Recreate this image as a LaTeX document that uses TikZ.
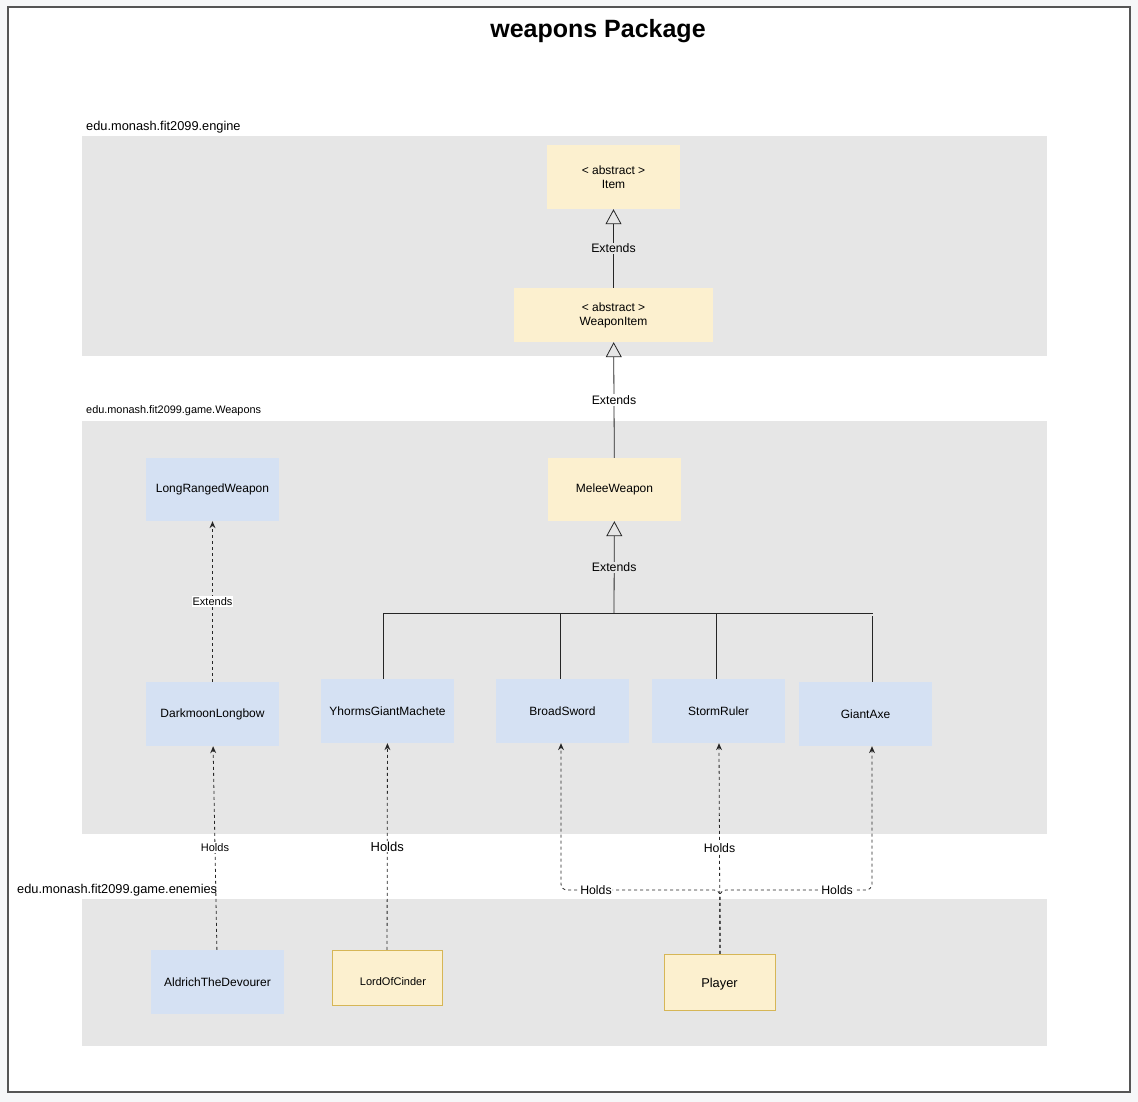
\documentclass[tikz,border=0pt]{standalone}
\usepackage{fontspec}
\setmainfont{Liberation Sans}
\usetikzlibrary{arrows.meta,calc}
\definecolor{pagebg}{HTML}{F6F7F8}
\definecolor{framegray}{HTML}{555555}
\definecolor{pkggray}{HTML}{E6E6E6}
\definecolor{ylwfill}{HTML}{FCF0CF}
\definecolor{ylwline}{HTML}{D6B656}
\definecolor{blufill}{HTML}{D5E1F3}

\begin{document}
\begin{tikzpicture}[x=1pt,y=-1pt,
    cls/.style={inner sep=0pt,align=center,font=\fontsize{12}{14}\selectfont},
    yelbox/.style={cls,fill=ylwfill},
    blubox/.style={cls,fill=blufill},
    pkg/.style={fill=pkggray},
    pkglbl/.style={anchor=west,inner sep=2pt,font=\fontsize{12.8}{15}\selectfont},
    conn/.style={line width=0.8pt,draw=black!85},
    ext/.style={conn,-{Triangle[open,length=15pt,width=16pt,line width=0.8pt]}},
    holds/.style={conn,dash pattern=on 3pt off 3pt,-{Stealth[length=7pt,width=6pt,line width=0pt]}},
    lbl/.style={inner sep=1pt,font=\fontsize{12.3}{14}\selectfont},
    smalllbl/.style={inner sep=1pt,font=\fontsize{11}{13}\selectfont}]
  \useasboundingbox (0,0) rectangle (1138,1102);
  \fill[pagebg] (0,0) rectangle (1138,1102);
  \draw[framegray,line width=1.4pt,fill=white] (8,7) rectangle (1130,1092);
  \node[font=\bfseries\fontsize{25}{30}\selectfont] (title) at (598,31) {weapons Package};

  % packages
  \fill[pkg] (82,136) rectangle (1047,356);
  \node[pkglbl] (enginelbl) at (84,127) {edu.monash.fit2099.engine};
  \fill[pkg] (82,421) rectangle (1047,834);
  \node[pkglbl,font=\fontsize{10.9}{13}\selectfont] (weaponslbl) at (84,411) {edu.monash.fit2099.game.Weapons};
  \fill[pkg] (82,899) rectangle (1047,1046);
  \node[pkglbl] (enemieslbl) at (15,890) {edu.monash.fit2099.game.enemies};

  % classes
  \node[yelbox,minimum width=133pt,minimum height=64pt] (item) at (613.5,177) {< abstract >\\Item};
  \node[yelbox,minimum width=199pt,minimum height=54pt] (weaponitem) at (613.5,315) {< abstract >\\WeaponItem};
  \node[blubox,minimum width=133pt,minimum height=63pt] (longranged) at (212.5,489.5) {LongRangedWeapon};
  \node[yelbox,minimum width=133pt,minimum height=63pt] (melee) at (614.5,489.5) {MeleeWeapon};
  \node[blubox,minimum width=133pt,minimum height=64pt] (darkmoon) at (212.5,714) {DarkmoonLongbow};
  \node[blubox,minimum width=133pt,minimum height=64pt] (yhorms) at (387.5,711) {YhormsGiantMachete};
  \node[blubox,minimum width=133pt,minimum height=64pt] (broadsword) at (562.5,711) {BroadSword};
  \node[blubox,minimum width=133pt,minimum height=64pt] (stormruler) at (718.5,711) {StormRuler};
  \node[blubox,minimum width=133pt,minimum height=64pt] (giantaxe) at (865.5,714) {GiantAxe};
  \node[blubox,minimum width=133pt,minimum height=64pt] (aldrich) at (217.5,982) {AldrichTheDevourer};
  \node[yelbox,draw=ylwline,minimum width=110pt,minimum height=55pt,text width=110pt,
    text height=16pt,text depth=0pt,font=\fontsize{11}{13}\selectfont] (lordofcinder) at (387,977.5) {\hspace*{12pt}LordOfCinder};
  \node[yelbox,draw=ylwline,minimum width=111pt,minimum height=56pt,text height=12pt,text depth=1pt,
    font=\fontsize{12.8}{15}\selectfont] (player) at (719.5,982) {Player};

  % generalisation
  \draw[ext] (weaponitem) -- (item) node[midway,lbl,fill=pkggray] {Extends};
  \draw[ext] (melee) -- (weaponitem) node[midway,lbl,fill=white] {Extends};
  \coordinate (bar) at (614,613);
  \draw[ext] (bar) -- (melee) node[midway,lbl,fill=pkggray] {Extends};
  \draw[conn] (383,613) -- (873,613);
  \draw[conn] ([xshift=-4.5pt]yhorms.north) -- ++(0,-66);
  \draw[conn] ([xshift=-2.5pt]broadsword.north) -- ++(0,-66);
  \draw[conn] ([xshift=-2.5pt]stormruler.north) -- ++(0,-66);
  \draw[conn] ([xshift=7pt]giantaxe.north) -- ++(0,-66);
  \draw[holds] (darkmoon) -- (longranged) node[midway,smalllbl,fill=white] {Extends};

  % holds
  \draw[holds] (aldrich) -- (darkmoon) node[midway,smalllbl,fill=white] {Holds};
  \draw[holds] (lordofcinder) -- (yhorms) node[midway,lbl,font=\fontsize{13}{15}\selectfont,fill=white] {Holds};
  \draw[holds] ([xshift=0.5pt]player.north) -- ([xshift=0.5pt]stormruler.south) node[midway,lbl,fill=white] {Holds};
  \draw[holds,rounded corners=6pt] ([xshift=0.5pt]player.north) -- ([xshift=0.5pt]player.north |- 0,890)
    -| node[pos=0.39,lbl,fill=white] {Holds} ([xshift=-1.5pt]broadsword.south);
  \draw[holds,rounded corners=6pt] ([xshift=0.5pt]player.north) -- ([xshift=0.5pt]player.north |- 0,890)
    -| node[pos=0.385,lbl,fill=white] {Holds} ([xshift=6.5pt]giantaxe.south);
\end{tikzpicture}
\end{document}
